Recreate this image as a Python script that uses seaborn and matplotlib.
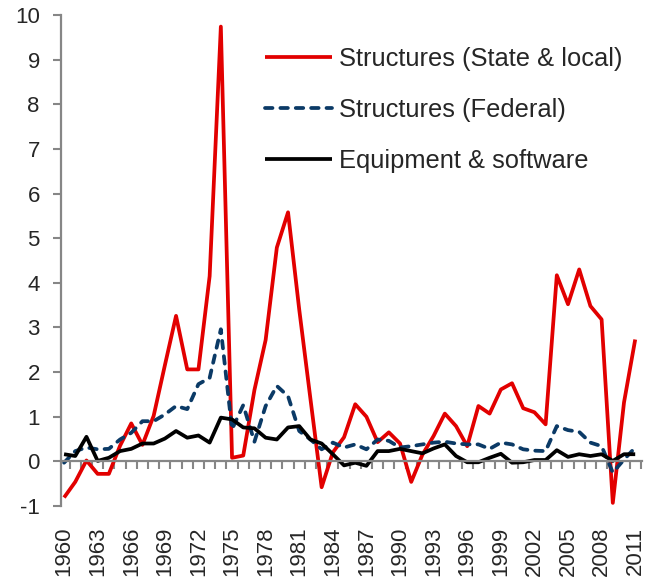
import numpy as np
import pandas as pd
import matplotlib
matplotlib.use("Agg")
import matplotlib.pyplot as plt
import seaborn as sns

# --- data ---
years = list(range(1960, 2012))

state_local = [-0.81, -0.46, 0.02, -0.28, -0.28, 0.35, 0.85, 0.37, 1.02, 2.15,
               3.26, 2.06, 2.06, 4.15, 9.74, 0.08, 0.13, 1.6, 2.72, 4.79,
               5.58, 3.4, 1.4, -0.58, 0.2, 0.54, 1.28, 1.0, 0.43, 0.65,
               0.4, -0.46, 0.15, 0.57, 1.07, 0.79, 0.34, 1.24, 1.07, 1.61,
               1.75, 1.19, 1.1, 0.83, 4.17, 3.52, 4.3, 3.48, 3.18, -0.93,
               1.32, 2.73]

federal = [-0.03, 0.23, 0.31, 0.27, 0.28, 0.49, 0.64, 0.9, 0.9, 1.05,
           1.24, 1.17, 1.73, 1.87, 2.96, 0.72, 1.26, 0.44, 1.24, 1.69,
           1.46, 0.68, 0.49, 0.27, 0.42, 0.31, 0.38, 0.27, 0.49, 0.46,
           0.31, 0.34, 0.38, 0.42, 0.44, 0.4, 0.38, 0.38, 0.28, 0.42,
           0.38, 0.27, 0.24, 0.23, 0.79, 0.7, 0.66, 0.42, 0.34, -0.25,
           0.04, 0.31]

equipment = [0.16, 0.12, 0.55, 0.01, 0.08, 0.23, 0.28, 0.4, 0.4, 0.51,
             0.68, 0.53, 0.58, 0.42, 0.98, 0.94, 0.76, 0.74, 0.53, 0.49,
             0.76, 0.79, 0.49, 0.4, 0.16, -0.09, -0.03, -0.1, 0.23, 0.23,
             0.28, 0.23, 0.18, 0.29, 0.38, 0.12, -0.02, -0.02, 0.08, 0.17,
             -0.03, -0.02, 0.03, 0.03, 0.25, 0.1, 0.16, 0.12, 0.16, 0.01,
             0.16, 0.16]

series_names = ["Structures (State & local)", "Structures (Federal)", "Equipment & software"]
label_years = years[::3]

df = pd.DataFrame({"year": years,
                   series_names[0]: state_local,
                   series_names[1]: federal,
                   series_names[2]: equipment})

sns.set_style("white")
plt.rcParams["font.family"] = ["Liberation Sans", "DejaVu Sans"]
plt.rcParams["axes.unicode_minus"] = False

fig = plt.figure(figsize=(6.47, 5.82), dpi=100)
ax = fig.add_axes([60.7 / 647, 1 - 506 / 582, (641.7 - 60.7) / 647, (506 - 15) / 582])

axis_grey = "#868686"
lw = 2.7

sns.lineplot(data=df, x="year", y=series_names[0], ax=ax, color="#e20000",
             linewidth=lw, label=series_names[0])
sns.lineplot(data=df, x="year", y=series_names[1], ax=ax, color="#0b3a66",
             linewidth=lw, label=series_names[1])
sns.lineplot(data=df, x="year", y=series_names[2], ax=ax, color="black",
             linewidth=lw, label=series_names[2])
blue_line = ax.lines[1]
blue_line.set_dashes((2.0, 2.1))
blue_line.set_dash_capstyle("round")
for ln in ax.lines:
    ln.set_solid_capstyle("butt")

ax.set_xlim(years[0] - 0.3, years[-1] + 0.58)
ax.set_ylim(-1, 10)
ax.set_yticks(range(-1, 11))
ax.set_xlabel("")
ax.set_ylabel("")

# horizontal axis sits at zero, tick marks between the years
for side in ["top", "right"]:
    ax.spines[side].set_visible(False)
ax.spines["bottom"].set_position(("data", 0))
for side in ["left", "bottom"]:
    ax.spines[side].set_color(axis_grey)
    ax.spines[side].set_linewidth(1.6)

ax.set_xticks([])
ax.set_xticks(np.arange(years[0] + 0.5, years[-1] + 1, 1), minor=True)
ax.tick_params(axis="x", which="minor", direction="out", length=6, width=1.5,
               color=axis_grey, labelbottom=False, bottom=True)
ax.tick_params(axis="y", which="major", direction="out", length=6, width=1.5,
               color=axis_grey, labelsize=16, pad=9, left=True)

# year labels along the bottom of the plot
sec = ax.secondary_xaxis("bottom")
sec.set_xticks(label_years)
sec.set_xticklabels([str(y) for y in label_years], rotation=90, fontsize=16)
sec.tick_params(length=0, pad=15)
sec.spines["bottom"].set_visible(False)

leg = ax.legend(loc="upper left", bbox_to_anchor=(252 / 647, 1 - 34 / 582),
                bbox_transform=fig.transFigure, frameon=False, fontsize=18.4,
                handlelength=2.62, handletextpad=0.3, labelspacing=1.06,
                borderpad=0)

fig.savefig("out.png", dpi=100)
